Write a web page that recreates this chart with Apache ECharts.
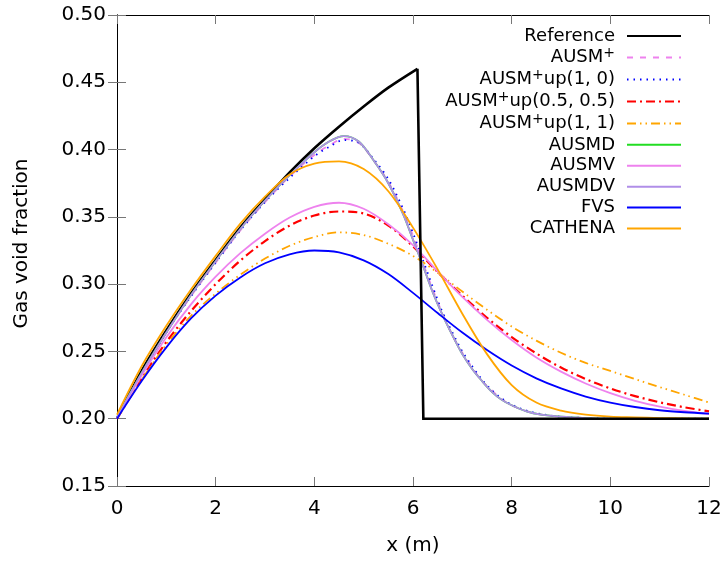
<!DOCTYPE html>
<html>
<head>
<meta charset="utf-8">
<script src="https://cdn.jsdelivr.net/npm/echarts@6/dist/echarts.min.js"></script>
<style>html,body{margin:0;padding:0;background:#fff;}#c{width:725px;height:561px;}</style>
</head>
<body>
<div id="c"></div>
<script>
// ---- data ----
const seriesNames = ['Reference','AUSM+','AUSM+up(1, 0)','AUSM+up(0.5, 0.5)','AUSM+up(1, 1)','AUSMD','AUSMV','AUSMDV','FVS','CATHENA'];
const xTicks = [0,2,4,6,8,10,12];
const yTicks = [0.15,0.20,0.25,0.30,0.35,0.40,0.45,0.50];

// Reference: smooth rising part, then the shock drop and flat part
const xRefCurve = [0,0.5,1,1.5,2,2.5,3,3.5,4,4.5,5,5.5,6.09];
const yRefCurve = [0.200,0.2355,0.2655,0.2930,0.3180,0.3420,0.3630,0.3830,0.4010,0.4170,0.4320,0.4460,0.4600];
const xRefDrop = [6.09,6.21,12];
const yRefDrop = [0.4600,0.200,0.200];

const xPeak = [0,0.5,1,1.5,2,2.5,3,3.5,4,4.3,4.6,4.9,5.2,5.5,5.8,6.0,6.2,6.4,6.6,6.8,7.0,7.2,7.4,7.6,7.8,8.0,8.3,8.6,9.0,9.5,10,11,12];
const yAUSMplus = [0.201,0.233,0.264,0.291,0.316,0.340,0.361,0.380,0.396,0.403,0.408,0.405,0.392,0.376,0.354,0.336,0.316,0.296,0.278,0.262,0.249,0.238,0.228,0.221,0.2145,0.210,0.2057,0.203,0.2015,0.2005,0.200,0.200,0.200];
const yAUSMup10 = [0.201,0.233,0.264,0.291,0.316,0.340,0.361,0.379,0.395,0.402,0.407,0.405,0.393,0.378,0.356,0.338,0.318,0.298,0.279,0.264,0.250,0.239,0.229,0.221,0.215,0.2105,0.206,0.2035,0.2015,0.2005,0.200,0.200,0.200];
const yAUSMD = [0.201,0.234,0.264,0.292,0.317,0.341,0.362,0.381,0.398,0.406,0.410,0.406,0.392,0.375,0.352,0.333,0.314,0.294,0.277,0.262,0.248,0.237,0.228,0.220,0.214,0.210,0.2055,0.203,0.2015,0.2005,0.200,0.200,0.200];
const yAUSMDV = [0.201,0.234,0.264,0.292,0.317,0.341,0.362,0.381,0.398,0.406,0.410,0.406,0.392,0.375,0.352,0.333,0.314,0.294,0.277,0.262,0.248,0.237,0.228,0.220,0.214,0.210,0.2055,0.203,0.2015,0.2005,0.200,0.200,0.200];

const xWide = [0,0.5,1,1.5,2,2.5,3,3.5,4,4.5,5,5.5,6,6.5,7,7.5,8,8.5,9,9.5,10,10.5,11,11.5,12];
const yAUSMup55 = [0.200,0.230,0.257,0.280,0.300,0.3175,0.332,0.3435,0.351,0.354,0.3525,0.3435,0.328,0.309,0.2915,0.275,0.2607,0.2485,0.238,0.2295,0.2225,0.2168,0.2122,0.2085,0.2055];
const yAUSMup11 = [0.200,0.229,0.255,0.2765,0.293,0.307,0.319,0.3285,0.335,0.3385,0.3365,0.330,0.321,0.3085,0.2945,0.281,0.2685,0.258,0.249,0.2415,0.2355,0.2295,0.2235,0.2178,0.212];
const yAUSMV = [0.200,0.232,0.2605,0.285,0.3055,0.323,0.3375,0.3495,0.3575,0.3605,0.356,0.3445,0.329,0.3095,0.2905,0.2735,0.2585,0.2455,0.235,0.2262,0.219,0.2133,0.209,0.2058,0.2035];
const yFVS = [0.200,0.228,0.253,0.2745,0.2915,0.305,0.3155,0.3222,0.3250,0.3236,0.3177,0.3075,0.2935,0.2785,0.264,0.251,0.2395,0.230,0.2225,0.2165,0.212,0.2087,0.2063,0.2048,0.2038];
const yCATHENA = [0.203,0.239,0.269,0.296,0.321,0.345,0.365,0.3815,0.3895,0.3912,0.3855,0.369,0.342,0.311,0.278,0.248,0.225,0.212,0.206,0.203,0.2015,0.201,0.2005,0.2002,0.200];

// ---- build ----
const FONT = 'DejaVu Sans';
function pairs(xs, ys){ return xs.map((x,i)=>[x, ys[i]]); }
function mk(name, xs, ys, color, width, type, smooth){
  return {
    name: name, type: 'line', data: pairs(xs, ys),
    showSymbol: false, symbol: 'none', smooth: smooth,
    lineStyle: {color: color, width: width, type: type, join: 'miter'},
    itemStyle: {color: color},
    emphasis: {disabled: true}, animation: false
  };
}
const S = 0.33;
const series = [
  mk(seriesNames[0], xRefCurve, yRefCurve, '#000000', 2.6, 'solid', S),
  mk(seriesNames[1], xPeak, yAUSMplus, '#ee82ee', 1.8, [6,7], S),
  mk(seriesNames[2], xPeak, yAUSMup10, '#0000ff', 1.8, [1.5,5], S),
  mk(seriesNames[3], xWide, yAUSMup55, '#ff0000', 2.2, [9,4,2,4], S),
  mk(seriesNames[4], xWide, yAUSMup11, '#ffa500', 1.8, [9,4,1.5,4,1.5,4], S),
  mk(seriesNames[5], xPeak, yAUSMD, '#22dd22', 1.8, 'solid', S),
  mk(seriesNames[6], xWide, yAUSMV, '#ee82ee', 1.8, 'solid', S),
  mk(seriesNames[7], xPeak, yAUSMDV, '#b08ee8', 1.8, 'solid', S),
  mk(seriesNames[8], xWide, yFVS, '#0000ff', 1.8, 'solid', S),
  mk(seriesNames[9], xWide, yCATHENA, '#ffa500', 1.8, 'solid', S),
  mk(seriesNames[0], xRefDrop, yRefDrop, '#000000', 2.6, 'solid', false)
];

const axisLine = {show: true, lineStyle: {color: '#000', width: 1}};
const tick = {show: true, inside: true, length: 9, lineStyle: {color: '#777', width: 1}};
const xMin = xTicks[0], xMax = xTicks[xTicks.length-1], xInt = xTicks[1]-xTicks[0];
const yMin = yTicks[0], yMax = yTicks[yTicks.length-1], yInt = 0.05;
const AX = 20;

const option = {
  animation: false,
  backgroundColor: '#fff',
  grid: {left: 117, right: 16, top: 15, bottom: 73, containLabel: false},
  legend: {
    data: seriesNames, orient: 'vertical', right: 43, top: 25.5, align: 'right', padding: 0,
    itemWidth: 54, itemHeight: 14, itemGap: 0, selectedMode: false,
    itemStyle: {opacity: 0},
    formatter: function(n){ return n.replace('AUSM+', 'AUSM{s|+}'); },
    textStyle: {fontFamily: FONT, fontSize: 18, color: '#000', lineHeight: 20.9, padding: [0, 7, 0, 0],
      rich: {s: {fontFamily: FONT, fontSize: 14, color: '#000', lineHeight: 10, padding: [0, 0, 8, 0]}}}
  },
  xAxis: [
    {type: 'value', min: xMin, max: xMax, interval: xInt, position: 'bottom',
     axisLine: axisLine, axisTick: tick, splitLine: {show: false},
     axisLabel: {fontFamily: FONT, fontSize: AX, color: '#000', margin: 13},
     name: 'x (m)', nameLocation: 'middle', nameGap: 50,
     nameTextStyle: {fontFamily: FONT, fontSize: AX, color: '#000'}},
    {type: 'value', min: xMin, max: xMax, interval: xInt, position: 'top',
     axisLine: axisLine, axisTick: tick, splitLine: {show: false}, axisLabel: {show: false}}
  ],
  yAxis: [
    {type: 'value', min: yMin, max: yMax, interval: yInt, position: 'left',
     axisLine: axisLine, axisTick: tick, splitLine: {show: false},
     axisLabel: {fontFamily: FONT, fontSize: AX, color: '#000', margin: 11,
       formatter: function(v){ return v.toFixed(2); }},
     name: 'Gas void fraction', nameLocation: 'middle', nameGap: 85, nameRotate: 90,
     nameTextStyle: {fontFamily: FONT, fontSize: AX, color: '#000', padding: [0, 0, 0, 14]}},
    {type: 'value', min: yMin, max: yMax, interval: yInt, position: 'right',
     axisLine: axisLine, axisTick: tick, splitLine: {show: false}, axisLabel: {show: false}}
  ],
  series: series
};
const chart = echarts.init(document.getElementById('c'), null, {renderer: 'canvas'});
chart.setOption(option);
</script>
</body>
</html>
